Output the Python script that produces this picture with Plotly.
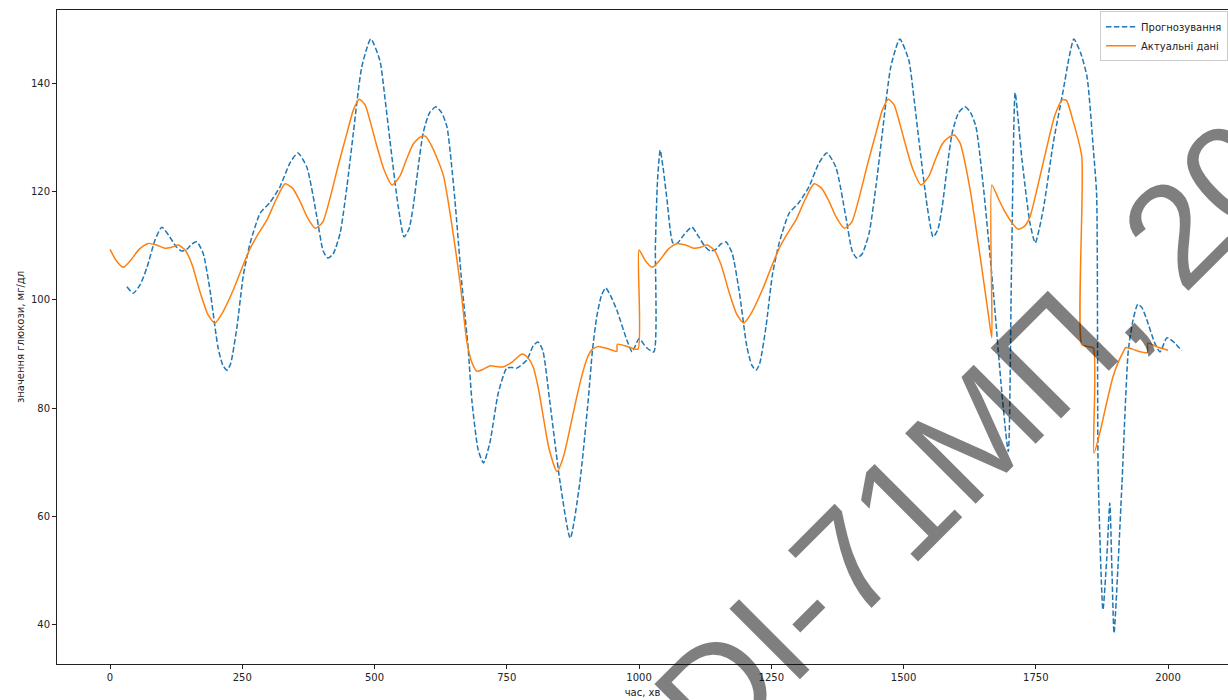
import plotly.graph_objects as go

# Forecast (dashed blue): time, minutes / glucose, mg/dL
forecast_t = [
    32, 44, 57, 70, 85, 98, 113, 125, 135, 145, 155, 164, 176, 189, 204, 213, 221, 228, 240, 252,
    265, 284, 302, 321, 340, 355, 372, 391, 403, 412, 422, 435, 448, 460, 476, 493, 510, 520, 529, 545,
    556, 565, 573, 582, 592, 604, 616, 627, 637, 645, 652, 665, 677, 684, 696, 706, 718, 734, 750, 760,
    769, 788, 800, 809, 818, 831, 851, 870, 888, 904, 912, 920, 929, 937, 946, 958, 977, 987, 1000, 1014,
    1028, 1031, 1035, 1040, 1046, 1053, 1064, 1072, 1085, 1100, 1113, 1125, 1135, 1145, 1155, 1164, 1176, 1189, 1204, 1213,
    1221, 1228, 1240, 1252, 1265, 1284, 1302, 1321, 1340, 1355, 1372, 1391, 1403, 1412, 1422, 1435, 1448, 1460, 1476, 1493,
    1510, 1520, 1529, 1545, 1556, 1565, 1573, 1582, 1592, 1604, 1616, 1627, 1637, 1651, 1670, 1679, 1686, 1698, 1704, 1711,
    1717, 1724, 1739, 1749, 1764, 1783, 1802, 1812, 1822, 1835, 1847, 1859, 1865, 1868, 1877, 1884, 1890, 1894, 1898, 1905,
    1913, 1925, 1934, 1943, 1951, 1960, 1975, 1985, 1998, 2013, 2026,
]
forecast_v = [
    102.4, 101.2, 102.8, 106.0, 111.0, 113.4, 111.6, 109.8, 109.0, 109.3, 110.3, 110.7, 108.6, 101.8, 91.3, 88.0, 87.0, 88.2, 95.0, 104.5,
    110.5, 116.0, 117.9, 120.8, 125.2, 127.1, 124.5, 115.3, 109.0, 107.7, 108.5, 112.3, 121.0, 130.8, 143.0, 148.1, 144.2, 137.0, 129.5, 117.1,
    111.6, 113.0, 117.1, 124.0, 130.8, 134.5, 135.6, 134.5, 131.9, 125.5, 118.4, 103.1, 91.1, 81.5, 72.3, 69.9, 73.6, 82.8, 87.4, 87.5,
    87.4, 88.9, 91.5, 92.2, 90.7, 81.5, 66.2, 56.0, 66.2, 81.5, 90.7, 96.8, 100.8, 102.2, 100.8, 98.1, 92.6, 90.4, 92.8, 91.2,
    90.4, 110.0, 122.0, 127.6, 124.0, 118.4, 110.5, 110.4, 112.0, 113.4, 111.6, 109.8, 109.0, 109.3, 110.3, 110.7, 108.6, 101.8, 91.3, 88.0,
    87.0, 88.2, 95.0, 104.5, 110.5, 116.0, 117.9, 120.8, 125.2, 127.1, 124.5, 115.3, 109.0, 107.7, 108.5, 112.3, 121.0, 130.8, 143.0, 148.1,
    144.2, 137.0, 129.5, 117.1, 111.6, 113.0, 117.1, 124.0, 130.8, 134.5, 135.6, 134.5, 131.9, 120.8, 101.3, 90.7, 82.8, 72.0, 105.0, 138.2,
    133.0, 125.8, 114.2, 110.5, 116.6, 128.9, 138.7, 144.2, 148.1, 145.5, 141.1, 127.6, 119.5, 68.0, 42.8, 52.0, 62.5, 50.0, 38.5, 50.0,
    66.2, 90.7, 96.3, 99.2, 98.5, 96.3, 92.0, 90.4, 93.0, 92.0, 90.6,
]

# Actual readings (solid orange)
actual_t = [
    0, 12, 25, 40, 55, 72, 88, 104, 117, 129, 142, 155, 170, 185, 198, 212, 233, 250, 265, 281,
    297, 314, 331, 345, 359, 373, 388, 402, 416, 432, 448, 460, 471, 482, 493, 504, 518, 533, 548, 560,
    573, 586, 596, 610, 630, 646, 662, 675, 685, 694, 706, 718, 730, 743, 760, 779, 790, 800, 810, 818,
    830, 845, 857, 870, 881, 892, 902, 911, 923, 940, 958, 959, 980, 998,
    1000, 1012, 1025, 1040, 1055, 1072, 1088, 1104, 1117, 1129, 1142, 1155, 1170, 1185, 1198, 1212, 1233, 1250, 1265, 1281,
    1297, 1314, 1331, 1345, 1359, 1373, 1388, 1402, 1416, 1432, 1448, 1460, 1471, 1482, 1493, 1504, 1518, 1533, 1548, 1560,
    1573, 1586, 1596, 1607, 1626, 1645, 1660, 1667,
    1667, 1680, 1692, 1705, 1717, 1729, 1739, 1755, 1771, 1786, 1800, 1808, 1820, 1837,
    1837, 1848, 1859, 1860, 1871, 1884, 1896, 1906, 1915, 1920, 1933, 1947, 1961, 1962, 1980, 2000,
]
actual_v = [
    109.3, 107.2, 106.0, 107.4, 109.3, 110.4, 110.1, 109.5, 109.7, 110.1, 109.2, 106.5, 101.5, 97.3, 95.7, 97.5, 101.8, 106.0, 109.5, 112.3,
    114.8, 118.5, 121.4, 120.6, 118.2, 115.2, 113.2, 114.3, 118.8, 125.0, 130.8, 135.0, 137.0, 136.0, 132.5, 128.5, 124.0, 121.2, 122.8, 125.8,
    128.7, 130.0, 130.2, 128.0, 123.0, 114.0, 103.0, 92.0, 88.2, 86.8, 87.2, 87.8, 87.7, 87.6, 88.5, 90.0, 89.3, 87.6, 83.5, 79.0,
    72.5, 68.3, 71.0, 76.5, 81.5, 86.0, 89.2, 90.8, 91.4, 91.0, 90.5, 91.8, 91.3, 90.9,
    109.2, 107.2, 106.0, 107.4, 109.3, 110.4, 110.1, 109.5, 109.7, 110.1, 109.2, 106.5, 101.5, 97.3, 95.7, 97.5, 101.8, 106.0, 109.5, 112.3,
    114.8, 118.5, 121.4, 120.6, 118.2, 115.2, 113.2, 114.3, 118.8, 125.0, 130.8, 135.0, 137.0, 136.0, 132.5, 128.5, 124.0, 121.2, 122.8, 125.8,
    128.7, 130.0, 130.4, 128.9, 120.3, 107.9, 97.6, 93.0,
    121.2, 118.5, 116.2, 114.2, 113.0, 113.6, 115.3, 121.5, 128.2, 134.0, 136.9, 136.8, 133.2, 126.4,
    91.7, 91.4, 91.1, 71.7, 75.4, 81.0, 85.8, 88.5, 90.3, 91.2, 90.9, 90.4, 90.3, 92.0, 91.3, 90.7,
]

x_ticks = [0, 250, 500, 750, 1000, 1250, 1500, 1750, 2000]
y_ticks = [40, 60, 80, 100, 120, 140]

series_names = ["Прогнозування", "Актуальні дані"]
x_title = "час, хв"
y_title = "значення глюкози, мг/дл"
watermark = "DI-71МП, 20"

tick_font = dict(family="DejaVu Sans", size=10, color="#222222")

fig = go.Figure()
fig.add_trace(go.Scatter(
    x=forecast_t, y=forecast_v, name=series_names[0], mode="lines",
    line=dict(color="#1f77b4", width=1.5, dash="5.5px,2.4px", shape="spline", smoothing=0.6),
))
fig.add_trace(go.Scatter(
    x=actual_t, y=actual_v, name=series_names[1], mode="lines",
    line=dict(color="#ff7f0e", width=1.5, shape="spline", smoothing=0.6),
))

fig.update_layout(
    width=1228, height=700,
    margin=dict(l=57, r=0, t=10, b=36, autoexpand=False),
    paper_bgcolor="white", plot_bgcolor="white",
    showlegend=True,
    legend=dict(
        x=0.8907, y=0.998, xanchor="left", yanchor="top",
        bgcolor="rgba(255,255,255,0.8)", bordercolor="#cccccc", borderwidth=1,
        font=dict(family="DejaVu Sans", size=10, color="#222222"),
        tracegroupgap=0, itemwidth=30,
    ),
    xaxis=dict(
        range=[-100.2, 2113.4], tickvals=x_ticks, ticks="outside", ticklen=4,
        tickcolor="#222222", showgrid=False, zeroline=False,
        showline=True, linecolor="#222222", linewidth=1, mirror=True,
        tickfont=tick_font,
        title=dict(text=x_title, font=tick_font, standoff=6),
    ),
    yaxis=dict(
        range=[32.8, 153.47], tickvals=y_ticks, ticks="outside", ticklen=4,
        tickcolor="#222222", showgrid=False, zeroline=False,
        showline=True, linecolor="#222222", linewidth=1, mirror=False,
        tickfont=tick_font,
        title=dict(text=y_title, font=tick_font, standoff=4),
    ),
)

# Diagonal semi-transparent watermark over the plot
fig.add_annotation(
    text=watermark, xref="paper", yref="paper", x=0.7812, y=0.3468,
    xanchor="center", yanchor="middle", showarrow=False, textangle=-45,
    font=dict(family="Liberation Sans", size=145, color="rgba(0,0,0,0.5)"),
)

fig.write_html("out.html")
